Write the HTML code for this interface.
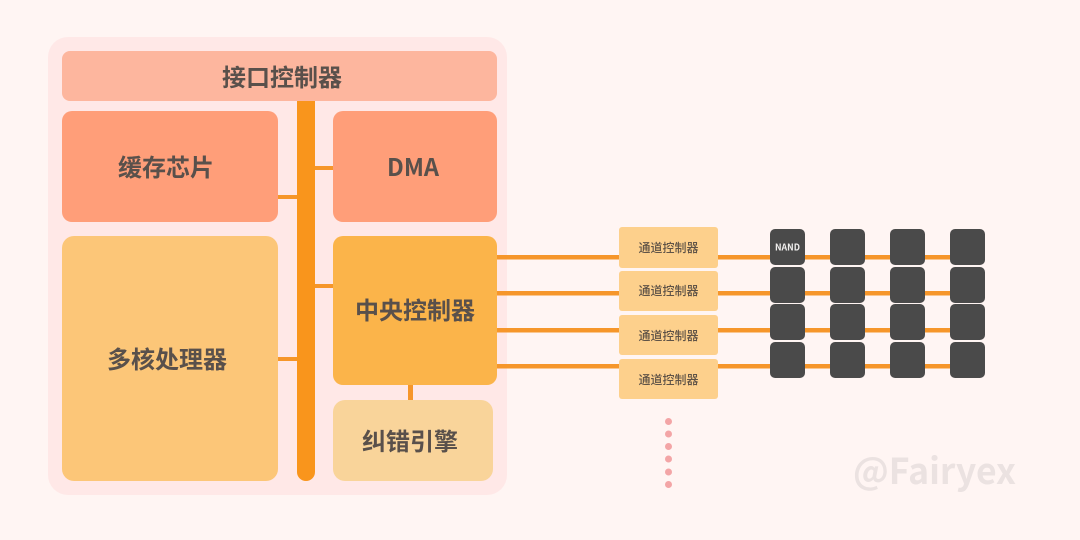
<!DOCTYPE html>
<html lang="zh">
<head>
<meta charset="utf-8">
<style>
html,body{margin:0;padding:0;background:#fff5f3;width:1080px;height:540px;overflow:hidden}
svg{display:block}
text{font-family:"Noto Sans CJK SC","Liberation Sans",sans-serif}
.c{font-weight:700;font-size:24px;fill:#59504b;text-anchor:middle}
.s{font-weight:500;font-size:12px;fill:#5f5347;text-anchor:middle}
</style>
</head>
<body>
<svg width="1080" height="540" viewBox="0 0 1080 540" xmlns="http://www.w3.org/2000/svg">
<rect width="1080" height="540" fill="#fff5f3"/>
<rect x="48" y="37" width="459" height="458" rx="20" fill="#ffe8e7"/>

<!-- connectors to channels -->
<g fill="#f6962a">
<rect x="497" y="255" width="453" height="4.500"/>
<rect x="497" y="291" width="453" height="4.500"/>
<rect x="497" y="328" width="453" height="4.500"/>
<rect x="497" y="364" width="453" height="4.500"/>
<rect x="278" y="195" width="20" height="4"/>
<rect x="278" y="357" width="20" height="4"/>
<rect x="314" y="166" width="20" height="4"/>
<rect x="314" y="284" width="20" height="4"/>
<rect x="408" y="384" width="5" height="17"/>
</g>

<rect x="62" y="51" width="435" height="50" rx="8" fill="#fdb69e"/>
<rect x="62" y="111" width="216" height="111" rx="10" fill="#ff9e79"/>
<rect x="333" y="111" width="164" height="111" rx="10" fill="#ff9e79"/>
<rect x="62" y="236" width="216" height="245" rx="12" fill="#fcc678"/>
<rect x="333" y="236" width="164" height="149" rx="10" fill="#fbb44a"/>
<rect x="333" y="400" width="160" height="81" rx="12" fill="#f9d49a"/>
<path d="M297 101H315V472a9 9 0 0 1-18 0Z" fill="#f9951c"/>

<text class="c" x="282" y="86">接口控制器</text>
<text class="c" x="166" y="176">缓存芯片</text>
<text class="c" x="413" y="176" textLength="52" lengthAdjust="spacingAndGlyphs">DMA</text>
<text class="c" x="167" y="368">多核处理器</text>
<text class="c" x="415" y="319">中央控制器</text>
<text class="c" x="410" y="450">纠错引擎</text>

<!-- channel controllers -->
<g fill="#fdd08c">
<rect x="619" y="227" width="99" height="41" rx="3"/>
<rect x="619" y="271" width="99" height="40" rx="3"/>
<rect x="619" y="315" width="99" height="40" rx="3"/>
<rect x="619" y="359" width="99" height="40" rx="3"/>
</g>
<text class="s" x="668.500" y="252">通道控制器</text>
<text class="s" x="668.500" y="295">通道控制器</text>
<text class="s" x="668.500" y="340">通道控制器</text>
<text class="s" x="668.500" y="384">通道控制器</text>

<!-- NAND grid -->
<g fill="#4a4a4a">
<rect x="770" y="229" width="35" height="36" rx="5"/>
<rect x="830" y="229" width="35" height="36" rx="5"/>
<rect x="890" y="229" width="35" height="36" rx="5"/>
<rect x="950" y="229" width="35" height="36" rx="5"/>
<rect x="770" y="267" width="35" height="36" rx="5"/>
<rect x="830" y="267" width="35" height="36" rx="5"/>
<rect x="890" y="267" width="35" height="36" rx="5"/>
<rect x="950" y="267" width="35" height="36" rx="5"/>
<rect x="770" y="304" width="35" height="36" rx="5"/>
<rect x="830" y="304" width="35" height="36" rx="5"/>
<rect x="890" y="304" width="35" height="36" rx="5"/>
<rect x="950" y="304" width="35" height="36" rx="5"/>
<rect x="770" y="342" width="35" height="36" rx="5"/>
<rect x="830" y="342" width="35" height="36" rx="5"/>
<rect x="890" y="342" width="35" height="36" rx="5"/>
<rect x="950" y="342" width="35" height="36" rx="5"/>
</g>
<text x="787.500" y="250.500" font-size="9" font-weight="700" fill="#f2f0ef" text-anchor="middle" textLength="25" lengthAdjust="spacingAndGlyphs">NAND</text>

<!-- dots -->
<g fill="#f3a5a6">
<circle cx="668.500" cy="421.500" r="3.500"/>
<circle cx="668.500" cy="434" r="3.500"/>
<circle cx="668.500" cy="446.500" r="3.500"/>
<circle cx="668.500" cy="459" r="3.500"/>
<circle cx="668.500" cy="472" r="3.500"/>
<circle cx="668.500" cy="484.500" r="3.500"/>
</g>

<text x="853" y="484" font-size="36" font-weight="700" fill="#ebe2e1" textLength="163" lengthAdjust="spacingAndGlyphs">@Fairyex</text>
</svg>
</body>
</html>
